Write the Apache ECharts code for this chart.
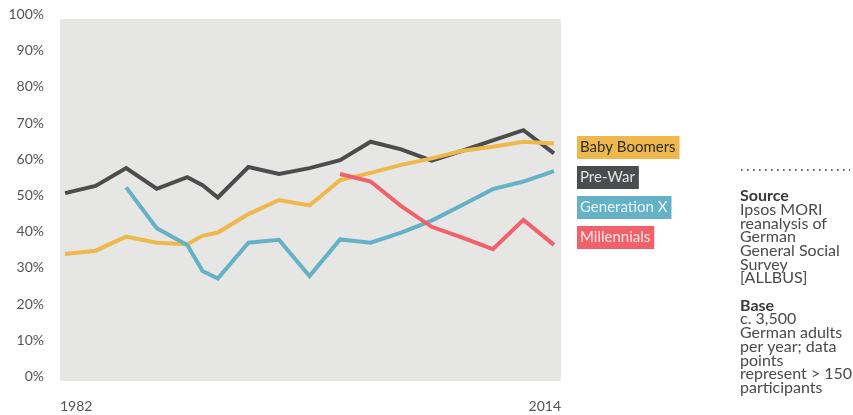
<!DOCTYPE html>
<html>
<head>
<meta charset="utf-8">
<script src="https://cdn.jsdelivr.net/npm/echarts@6/dist/echarts.min.js"></script>
<style>
    html, body { margin: 0; padding: 0; background: #fff; }
    #chart { width: 853px; height: 415px; }
</style>
</head>
<body>
<div id="chart"></div>
<script>
const years = [1982, 1984, 1986, 1988, 1990, 1991, 1992, 1994, 1996, 1998, 2000, 2002, 2004, 2006, 2008, 2010, 2012, 2014]

// share of each generation, %, null where the cohort is not yet surveyed
const preWar = [51.9, 53.9, 58.8, 53.1, 56.3, 54.1, 50.7, 59.1, 57.2, 58.8, 61.0, 66.1, 64.0, 60.9, 63.6, 66.5, 69.3, 62.9]
const babyBoomers = [35.1, 36.0, 39.9, 38.2, 37.8, 40.1, 41.0, 46.1, 50.0, 48.5, 55.5, 57.5, 59.7, 61.5, 63.6, 64.7, 66.1, 65.6]
const generationX = [null, null, 53.5, 42.2, 37.6, 30.4, 28.3, 38.2, 39.0, 29.0, 39.1, 38.2, 41.0, 44.3, 48.6, 53.0, 55.1, 58.0]
const millennials = [null, null, null, null, null, null, null, null, null, null, 57.2, 55.1, 48.3, 42.6, 39.6, 36.4, 44.5, 37.6]

const xTickLabels = ['1982', '2014']
const legendNames = ['Baby Boomers', 'Pre-War', 'Generation X', 'Millennials']

const sourceLines = ['Ipsos MORI', 'reanalysis of', 'German', 'General Social', 'Survey', '[ALLBUS]']
const baseLines = ['c. 3,500', 'German adults', 'per year; data', 'points', 'represent > 150', 'participants']

const colors = {
    'Pre-War': '#4b4c4d',
    'Baby Boomers': '#efb84c',
    'Generation X': '#65b1c5',
    'Millennials': '#f1616a',
}
const legendTextColors = {
    'Pre-War': '#e4e4e4',
    'Baby Boomers': '#2e2e2e',
    'Generation X': '#eaf5f8',
    'Millennials': '#fde8ea',
}

const fontFamily = 'Lato, "Noto Sans", sans-serif'
const xMin = 1981.67
const xMax = 2014.46

const toPairs = (values) => years
    .map((year, i) => [year, values[i]])
    .filter((p) => p[1] !== null)

const makeSeries = (name, values) => ({
    name,
    type: 'line',
    data: toPairs(values),
    symbol: 'none',
    z: 3,
    lineStyle: {
        width: 4,
        color: colors[name],
        join: 'miter',
    },
    emphasis: { disabled: true },
})

const chart = echarts.init(document.getElementById('chart'), null, { renderer: 'canvas' })

const legendGraphics = legendNames.map((name, i) => ({
    type: 'text',
    left: 577,
    top: 136 + i * 30,
    style: {
        text: name,
        font: '15px ' + fontFamily,
        fill: legendTextColors[name],
        backgroundColor: colors[name],
        padding: [4, 4, 4, 3],
    },
}))

const sideText = [
    '{b|Source}',
    ...sourceLines,
    '',
    '{b|Base}',
    ...baseLines,
].join('\n')

chart.setOption({
    animation: false,
    grid: {
        left: 60,
        top: 19,
        width: 501,
        height: 362,
        show: true,
        backgroundColor: '#e6e6e4',
        borderWidth: 0,
        containLabel: false,
    },
    xAxis: {
        type: 'value',
        min: xMin,
        max: xMax,
        axisLine: { show: false },
        axisTick: { show: false },
        splitLine: { show: false },
        axisLabel: {
            customValues: [xMin, xMax],
            formatter: (value) => (Math.abs(value - xMin) < 0.01 ? xTickLabels[0] : xTickLabels[1]),
            alignMinLabel: 'left',
            alignMaxLabel: 'right',
            color: '#555',
            fontSize: 14,
            fontFamily,
            margin: 18,
        },
    },
    yAxis: {
        type: 'value',
        min: 0,
        max: 100,
        interval: 10,
        axisLine: { show: false },
        axisTick: { show: false },
        splitLine: { show: false },
        axisLabel: {
            formatter: '{value}%',
            color: '#555',
            fontSize: 14,
            fontFamily,
            margin: 16,
            verticalAlign: 'bottom',
            lineHeight: 9,
        },
    },
    series: [
        makeSeries('Pre-War', preWar),
        makeSeries('Baby Boomers', babyBoomers),
        makeSeries('Generation X', generationX),
        makeSeries('Millennials', millennials),
    ],
    graphic: [
        ...legendGraphics,
        {
            type: 'line',
            shape: { x1: 741, y1: 170, x2: 850, y2: 170 },
            style: { stroke: '#333', lineWidth: 1.6, lineDash: [1.6, 4.4] },
        },
        {
            type: 'text',
            left: 740,
            top: 188,
            style: {
                text: sideText,
                font: '16px ' + fontFamily,
                fill: '#4a4a4a',
                lineHeight: 13.7,
                rich: {
                    b: {
                        font: 'bold 16px ' + fontFamily,
                        fill: '#3a3a3a',
                        lineHeight: 13.7,
                    },
                },
            },
        },
    ],
})
</script>
</body>
</html>
